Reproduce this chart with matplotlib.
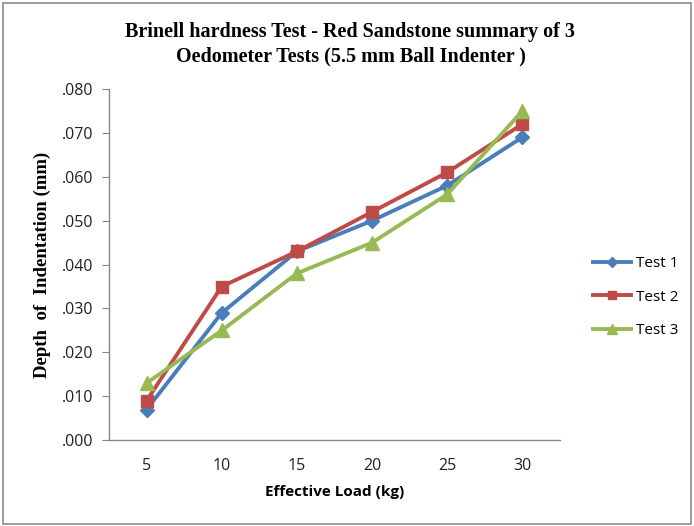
import matplotlib
matplotlib.use("Agg")
import matplotlib.pyplot as plt
from matplotlib.patches import Rectangle
from matplotlib.ticker import FuncFormatter

loads = ["5", "10", "15", "20", "25", "30"]
test1 = [0.007, 0.029, 0.043, 0.050, 0.058, 0.069]
test2 = [0.009, 0.035, 0.043, 0.052, 0.061, 0.072]
test3 = [0.013, 0.025, 0.038, 0.045, 0.056, 0.075]
series_names = ["Test 1", "Test 2", "Test 3"]

fig = plt.figure(figsize=(6.94, 5.26), dpi=100)
fig.patches.append(Rectangle((0.004, 0.004), 0.992, 0.99, transform=fig.transFigure,
                             fill=False, edgecolor="#8c8c8c", linewidth=1.2))
ax = fig.add_axes([0.157, 0.163, 0.650, 0.668])

x = list(range(len(loads)))
styles = [("#4a7ebb", "D", 7), ("#be4b48", "s", 9), ("#98b954", "^", 10)]
for data, name, (c, m, ms) in zip([test1, test2, test3], series_names, styles):
    ax.plot(x, data, color=c, marker=m, markersize=ms, linewidth=2.8, label=name)

ax.set_xlim(-0.5, len(loads) - 0.5)
ax.set_ylim(0, 0.08)
ax.set_yticks([i * 0.01 for i in range(9)])
ax.yaxis.set_major_formatter(FuncFormatter(lambda v, p: ("%.3f" % v)[1:]))
ax.set_xticks(x)
ax.set_xticklabels(loads)
for s in ["top", "right"]:
    ax.spines[s].set_visible(False)
for s in ["left", "bottom"]:
    ax.spines[s].set_color("#868686")
    ax.spines[s].set_linewidth(1.0)
ax.tick_params(axis="y", length=5, color="#868686", labelsize=11.5, pad=6, direction="out")
ax.tick_params(axis="x", length=0, labelsize=11.5, pad=13)
for lab in ax.get_xticklabels() + ax.get_yticklabels():
    lab.set_fontfamily("Open Sans")
    lab.set_color("#222222")

ax.set_xlabel("Effective Load (kg)", fontfamily="Open Sans", fontweight="bold",
              fontsize=11, labelpad=8)
ax.set_ylabel("Depth  of  Indentation (mm)", fontfamily="Liberation Serif",
              fontweight="bold", fontsize=13.5, labelpad=8)

fig.text(0.505, 0.940, "Brinell hardness Test - Red Sandstone summary of 3",
         ha="center", va="center", fontfamily="Liberation Serif", fontweight="bold", fontsize=14.5)
fig.text(0.505, 0.893, "Oedometer Tests (5.5 mm Ball Indenter )",
         ha="center", va="center", fontfamily="Liberation Serif", fontweight="bold", fontsize=14.5)

leg = fig.legend(loc="center left", bbox_to_anchor=(0.835, 0.435), frameon=False,
                 prop={"family": "Open Sans", "size": 11}, handlelength=2.5,
                 labelspacing=1.2, handletextpad=0.3, markerscale=0.7)

fig.savefig("out.png", dpi=100)
